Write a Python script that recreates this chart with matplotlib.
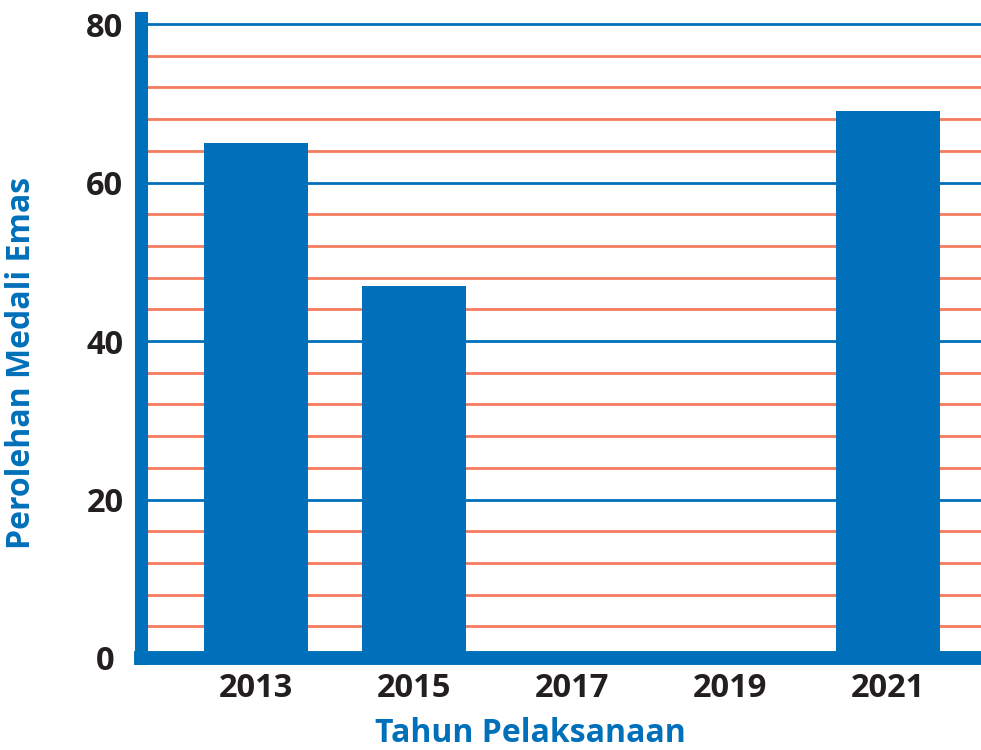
import matplotlib
matplotlib.use("Agg")
import matplotlib.pyplot as plt
import numpy as np

# data
tahun = ["2013", "2015", "2017", "2019", "2021"]
medali_emas = [65, 47, 0, 0, 69]
y_ticks = [0, 20, 40, 60, 80]

BLUE = "#0070BA"
ORANGE = "#F47C60"

plt.rcParams['font.family'] = ['Open Sans', 'DejaVu Sans']

fig = plt.figure(figsize=(9.81, 7.5), dpi=100)
ax = fig.add_axes([141/981, 1-658/750, 1-141/981, (658-18)/750])

x = np.arange(len(tahun))

# grid: orange every 4, blue every 20
for v in range(4, 81, 4):
    if v % 20 == 0:
        ax.axhline(v, color=BLUE, lw=2.0, zorder=1)
    else:
        ax.axhline(v, color=ORANGE, lw=2.0, zorder=1)

ax.bar(x, medali_emas, width=0.66, color=BLUE, zorder=2)

ax.set_xlim(-0.73, 4.59)
ax.set_ylim(0, 80.76)

ax.set_xticks(x)
ax.set_xticklabels(tahun)
ax.set_yticks(y_ticks)
ax.tick_params(length=0, labelsize=23.5, labelcolor="#231F20")
ax.tick_params(axis='y', pad=26)
ax.tick_params(axis='x', pad=10)
for lab in ax.get_xticklabels() + ax.get_yticklabels():
    lab.set_fontweight('bold')
for lab in ax.get_yticklabels():
    lab.set_horizontalalignment('center')

for s in ['top', 'right']:
    ax.spines[s].set_visible(False)
ax.spines['left'].set_color(BLUE)
ax.spines['left'].set_linewidth(9.4)
ax.spines['bottom'].set_color(BLUE)
ax.spines['bottom'].set_linewidth(10)
ax.spines['left'].set_zorder(3)
ax.spines['bottom'].set_zorder(3)

ax.set_xlabel("Tahun Pelaksanaan", color=BLUE, fontsize=23, fontweight='bold')
ax.set_ylabel("Perolehan Medali Emas", color=BLUE, fontsize=23, fontweight='bold')
ax.xaxis.set_label_coords(0.463, -0.092)
ax.yaxis.set_label_coords(-0.1226, 0.461)

fig.savefig("out.png", dpi=100)
